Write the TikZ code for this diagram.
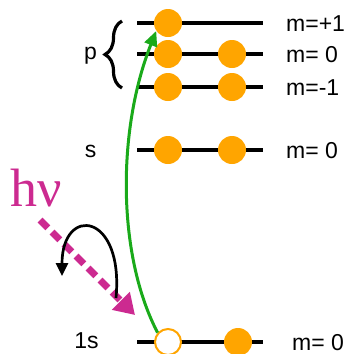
\documentclass[tikz,border=0pt]{standalone}
\usepackage{fontspec}
\setmainfont{Liberation Sans}
\newfontfamily\hvfont{Liberation Serif}
\usetikzlibrary{arrows.meta,decorations.pathreplacing}
\definecolor{orb}{HTML}{FFA500}
\definecolor{mag}{HTML}{CC2A90}
\definecolor{grn}{HTML}{1AAA1A}
\tikzset{
  level/.style={line width=4.2pt},
  el/.style={circle,fill=orb,minimum size=28pt,inner sep=0pt},
  hole/.style={circle,draw=orb,line width=2pt,fill=white,minimum size=26pt,inner sep=0pt},
  lbl/.style={anchor=base west,inner sep=0pt,font=\fontsize{23}{26}\selectfont},
  orbl/.style={anchor=base,inner sep=0pt,font=\fontsize{23}{26}\selectfont},
}
\begin{document}
\begin{tikzpicture}[x=1pt,y=-1pt]
\useasboundingbox (0,0) rectangle (350,354);
% level lines
\foreach \n/\y in {a/23,b/54,c/87,d/150,e/342}{
  \coordinate (\n L) at (137,\y);
  \coordinate (\n R) at (263,\y);
  \draw[level] (\n L) -- (\n R);
}
% electrons
\node[el] (a1) at (168,23) {};
\node[el] (b1) at (168,54) {};
\node[el] (b2) at (232,54) {};
\node[el] (c1) at (168,87) {};
\node[el] (c2) at (232,87) {};
\node[el] (d1) at (168,150) {};
\node[el] (d2) at (232,150) {};
\node[hole] (e1) at (168,342) {};
\node[el] (e2) at (238,342) {};
% labels
\node[lbl] (ma) at (286,31.5) {m=+1};
\node[lbl] (mb) at (286,62.5) {m= 0};
\node[lbl] (mc) at (286,95.5) {m=-1};
\node[lbl] (md) at (286,158.5) {m= 0};
\node[lbl] (me) at (292,350) {m= 0};
\node[orbl] (p) at (90.5,59.5) {p};
\node[orbl] (s) at (90.5,157) {s};
\node[orbl] (ones) at (86.5,348) {1s};
% brace
\coordinate (br1) at (122,88);
\coordinate (br2) at (122,21);
\draw[line width=3.2pt,decorate,decoration={brace,amplitude=17pt}] (br1) -- (br2);
% h nu
\node[text=mag,inner sep=0pt,font=\hvfont\fontsize{54}{54}\selectfont] (hv) at (36,188) {hν};
% photon arrow
\coordinate (ph1) at (40,220);
\coordinate (ph2) at (135,315);
\draw[mag,line width=7pt,dash pattern=on 11pt off 6pt,-{Triangle[length=20pt,width=24pt]}] (ph1) -- (ph2);
% rotation arrow
\coordinate (r1) at (116,298);
\coordinate (r2) at (62,276);
\draw[line width=2.7pt,-{Triangle[length=13pt,width=12pt]}] (r1) .. controls (124,212) and (62,205) .. (r2);
% green transition
\draw[grn,line width=3pt,-{Triangle[length=15pt,width=13pt]}] (e1.138) .. controls (117,255) and (117,130) .. (a1.214);
\end{tikzpicture}
\end{document}
